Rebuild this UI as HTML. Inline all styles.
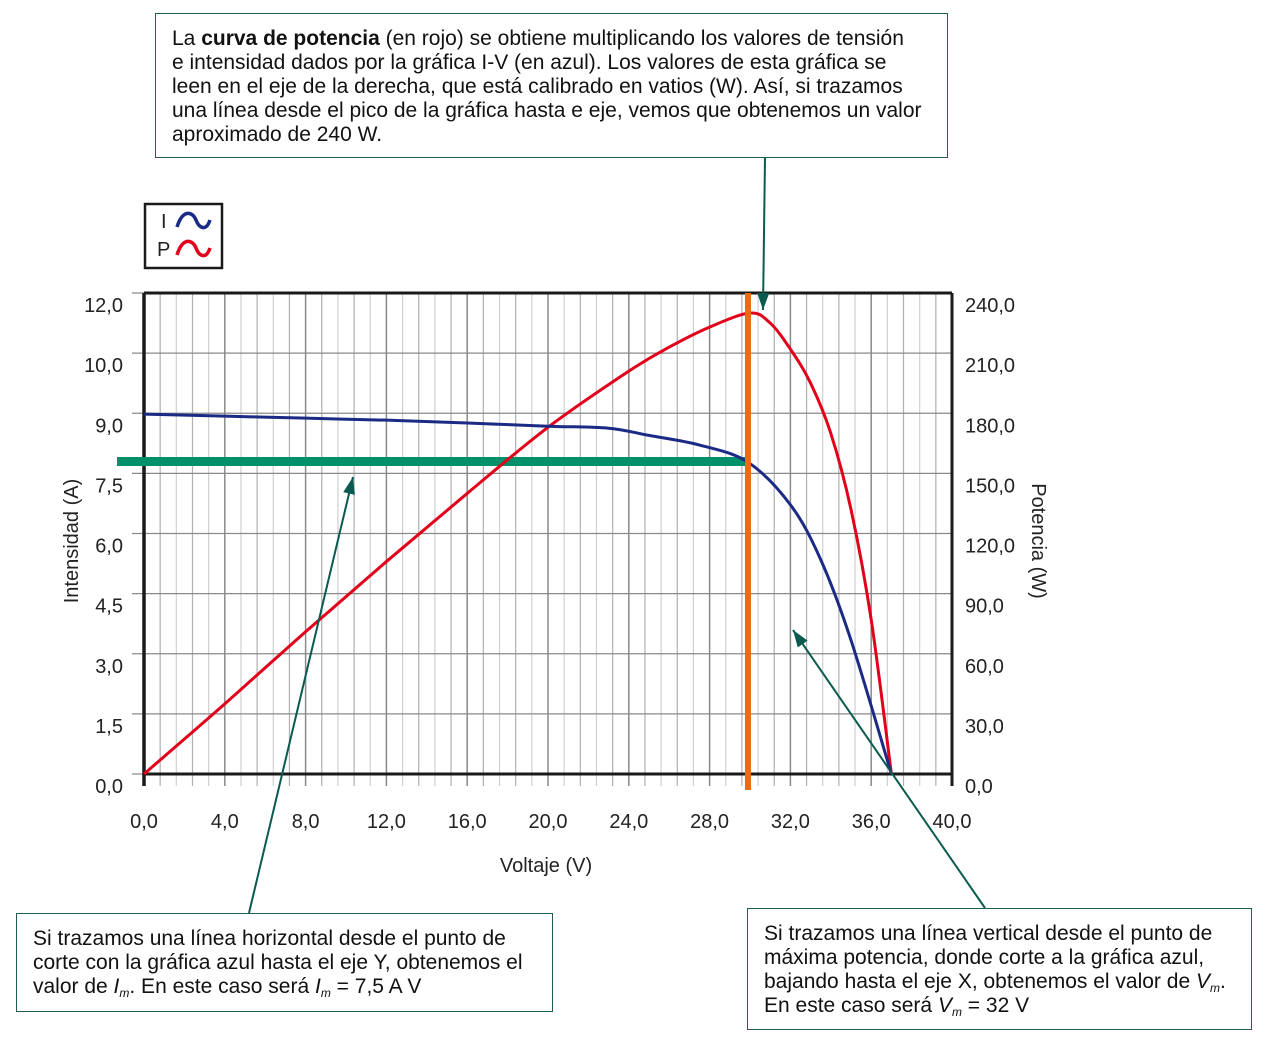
<!DOCTYPE html>
<html><head><meta charset="utf-8">
<style>
body{margin:0;background:#fff;font-family:"Liberation Sans",Arial,sans-serif;}
.box{position:absolute;border:1.5px solid #1f5c52;background:#fff;font-size:21px;line-height:24px;color:#111;box-sizing:border-box;white-space:nowrap;}
.box sub{font-size:12px;line-height:0;vertical-align:-4px;}
</style></head>
<body>
<div style="position:relative;width:1266px;height:1041px;overflow:hidden">
<svg id="chart" width="1266" height="1041" style="position:absolute;left:0;top:0"></svg>
<div class="box" style="left:155px;top:13px;width:793px;height:145px;padding:13px 10px 0 16px">La <b>curva de potencia</b> (en rojo) se obtiene multiplicando los valores de tensión<br>e intensidad dados por la gráfica I-V (en azul). Los valores de esta gráfica se<br>leen en el eje de la derecha, que está calibrado en vatios (W). Así, si trazamos<br>una línea desde el pico de la gráfica hasta e eje, vemos que obtenemos un valor<br>aproximado de 240 W.</div>
<div class="box" style="left:16px;top:913px;width:537px;height:99px;padding:13px 10px 0 16px">Si trazamos una línea horizontal desde el punto de<br>corte con la gráfica azul hasta el eje Y, obtenemos el<br>valor de <i>I<sub>m</sub></i>. En este caso será <i>I<sub>m</sub></i> = 7,5 A V</div>
<div class="box" style="left:747px;top:908px;width:505px;height:122px;padding:13px 10px 0 16px">Si trazamos una línea vertical desde el punto de<br>máxima potencia, donde corte a la gráfica azul,<br>bajando hasta el eje X, obtenemos el valor de <i>V<sub>m</sub></i>.<br>En este caso será <i>V<sub>m</sub></i> = 32 V</div>
</div>
<script>
const xTicks=[0,4,8,12,16,20,24,28,32,36,40];
const yLeftTicks=["0,0","1,5","3,0","4,5","6,0","7,5","9,0","10,0","12,0"];
const yRightTicks=["0,0","30,0","60,0","90,0","120,0","150,0","180,0","210,0","240,0"];
const ivV=[0,4,8,12,16,20,23,25,27.5,29.9,32,33.5,35,37];
const ivI=[8.98,8.93,8.88,8.83,8.76,8.68,8.63,8.45,8.21,7.78,6.72,5.35,3.34,0];
const pV=[0,4,8,12,16,20,24,26,28,30,31,32,33,34,35,36,37];
const pW=[0,35,71,106,140,173,201,213,223,230,225,212,195,170,132,77,0];
const vm=[29.9];
const im=[7.8];

const NS="http://www.w3.org/2000/svg";
const svg=document.getElementById('chart');
const X0=144,X1=952,YB=774,YT=293;
const x=v=>X0+v*(X1-X0)/40;
const yI=i=>YB-i*40.07;
const yP=p=>YB-p*(YB-YT)/240;
const yIdx=k=>YB-k*(YB-YT)/8;
function el(t,a){const e=document.createElementNS(NS,t);for(const k in a)e.setAttribute(k,a[k]);svg.appendChild(e);return e;}
function smooth(pts){
  let d='M'+pts[0][0]+','+pts[0][1];
  for(let i=0;i<pts.length-1;i++){
    const p0=pts[Math.max(0,i-1)],p1=pts[i],p2=pts[i+1],p3=pts[Math.min(pts.length-1,i+2)];
    const c1x=p1[0]+(p2[0]-p0[0])/6,c1y=p1[1]+(p2[1]-p0[1])/6;
    const c2x=p2[0]-(p3[0]-p1[0])/6,c2y=p2[1]-(p3[1]-p1[1])/6;
    d+=` C${c1x},${c1y} ${c2x},${c2y} ${p2[0]},${p2[1]}`;
  }
  return d;
}
for(let k=0;k<=50;k++){
  const v=k*0.8;const px=x(v);
  const g=el('line',{x1:px,x2:px,y1:YT,y2:YB+12,stroke:k%5===0?'#8a8a8a':(k%2?'#b0b0b0':'#d0d0d0'),'stroke-width':k%5===0?1.5:1.2});
  
  
}
for(let k=0;k<=8;k++){
  const py=yIdx(k);
  const g=el('line',{x1:X0-12,x2:X1,y1:py,y2:py,stroke:'#8a8a8a','stroke-width':1.3});
  
  
  const t=el('text',{x:123,y:py+19,'text-anchor':'end','font-size':20,fill:'#222'});
  t.textContent=yLeftTicks[k];
  
  
  const t2=el('text',{x:965,y:py+19,'font-size':20,fill:'#222'});
  t2.textContent=yRightTicks[k];
  
  
}
xTicks.forEach(v=>{
  const t=el('text',{x:x(v),y:828,'text-anchor':'middle','font-size':20,fill:'#222'});
  t.textContent=v.toFixed(1).replace('.',',');
  
  
});
let a=el('line',{x1:X0,x2:X0,y1:YT,y2:YB+12,stroke:'#1a1a1a','stroke-width':3.5});

a=el('line',{x1:X1,x2:X1,y1:YT,y2:YB+12,stroke:'#1a1a1a','stroke-width':3});

a=el('line',{x1:X0,x2:X1,y1:YT,y2:YT,stroke:'#1a1a1a','stroke-width':3});

a=el('line',{x1:X0,x2:X1,y1:YB,y2:YB,stroke:'#1a1a1a','stroke-width':3});

let t=el('text',{x:546,y:872,'text-anchor':'middle','font-size':20,fill:'#222'});t.textContent='Voltaje (V)';

t=el('text',{x:0,y:0,'text-anchor':'middle','font-size':20,fill:'#222',transform:'translate(78,541) rotate(-90)'});t.textContent='Intensidad (A)';

t=el('text',{x:0,y:0,'text-anchor':'middle','font-size':20,fill:'#222',transform:'translate(1032,541) rotate(90)'});t.textContent='Potencia (W)';

let g=el('line',{x1:117,x2:x(vm[0]),y1:yI(im[0]),y2:yI(im[0]),stroke:'#00906a','stroke-width':9});

g=el('path',{d:smooth(pV.map((v,i)=>[x(v),yP(pW[i])])),fill:'none',stroke:'#e2001a','stroke-width':3,'stroke-linejoin':'round'});

g=el('path',{d:smooth(ivV.map((v,i)=>[x(v),yI(ivI[i])])),fill:'none',stroke:'#1b2a85','stroke-width':3,'stroke-linejoin':'round'});

g=el('line',{x1:x(vm[0]),x2:x(vm[0]),y1:YT,y2:790,stroke:'#ec6b12','stroke-width':6});

function arrow(x1,y1,x2,y2,name){
  const l=el('line',{x1:x1,y1:y1,x2:x2,y2:y2,stroke:'#0b5a50','stroke-width':2});
  
  
  const ang=Math.atan2(y2-y1,x2-x1),L=17,W=6;
  const bx=x2-L*Math.cos(ang),by=y2-L*Math.sin(ang);
  const p=el('polygon',{points:`${x2},${y2} ${bx+W*Math.sin(ang)},${by-W*Math.cos(ang)} ${bx-W*Math.sin(ang)},${by+W*Math.cos(ang)}`,fill:'#0b5a50'});
  
  
}
arrow(765,157,763,310,'peak-arrow');
arrow(249,913,353,477,'im-arrow');
arrow(985,908,793,630,'vm-arrow');
g=el('rect',{x:145,y:204,width:77,height:64,fill:'#fff',stroke:'#1a1a1a','stroke-width':2.5});

t=el('text',{x:161,y:228,'font-size':20,fill:'#222'});t.textContent='I';

t=el('text',{x:157,y:256,'font-size':20,fill:'#222'});t.textContent='P';

g=el('path',{d:'M177,227 C183,208 193,212 196,220 C199,228 206,232 210,220',fill:'none',stroke:'#1b2a85','stroke-width':3.5});

g=el('path',{d:'M177,255 C183,236 193,240 196,248 C199,256 206,260 210,248',fill:'none',stroke:'#e2001a','stroke-width':3.5});

</script>
</body></html>
